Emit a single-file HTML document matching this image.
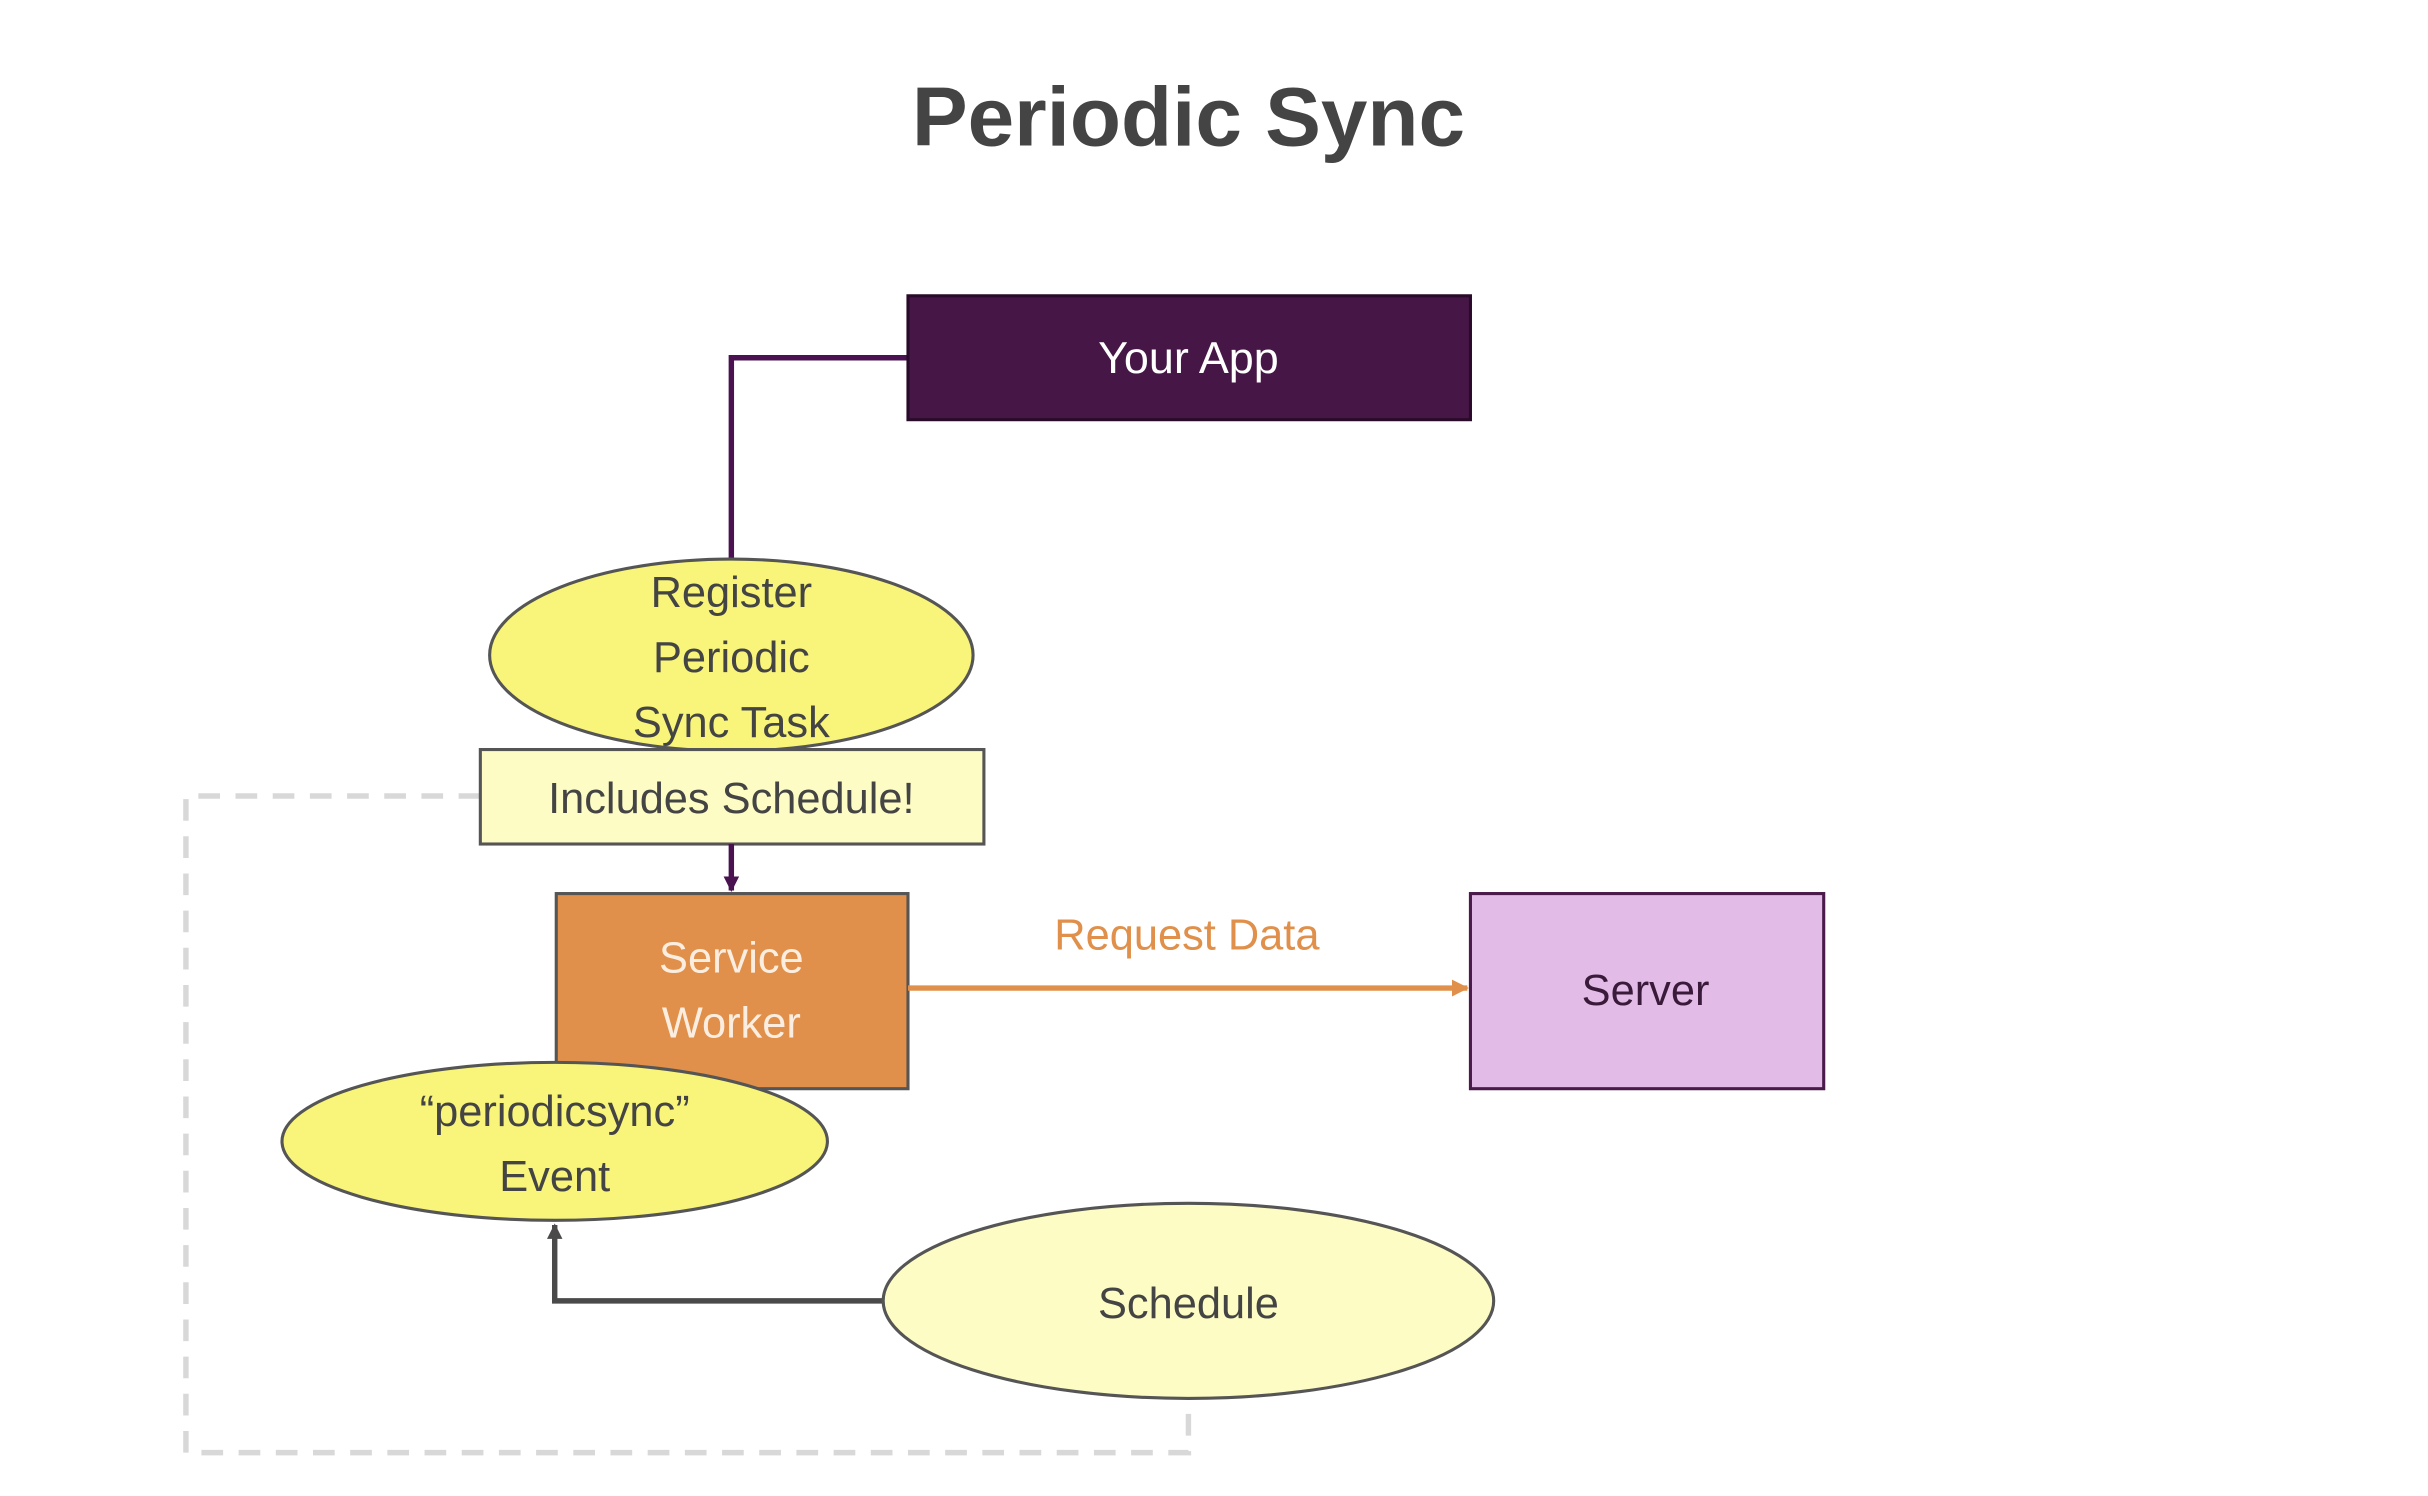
<!DOCTYPE html>
<html><head><meta charset="utf-8"><style>
html,body{margin:0;padding:0;background:#fff;width:2428px;height:1496px;overflow:hidden}
svg{display:block}
text{font-family:"Liberation Sans",sans-serif}
</style></head><body>
<svg width="2428" height="1496" viewBox="0 0 1567 966" preserveAspectRatio="none" xmlns="http://www.w3.org/2000/svg">
<defs>
<marker id="ap" markerWidth="10" markerHeight="10" refX="9" refY="5" orient="auto" markerUnits="userSpaceOnUse"><path d="M0,0 L10,5 L0,10 z" fill="#4a1250"/></marker>
<marker id="ao" markerWidth="11" markerHeight="11" refX="10" refY="5.5" orient="auto" markerUnits="userSpaceOnUse"><path d="M0,0 L11,5.5 L0,11 z" fill="#e0904a"/></marker>
<marker id="ag" markerWidth="10" markerHeight="10" refX="9" refY="5" orient="auto" markerUnits="userSpaceOnUse"><path d="M0,0 L10,5 L0,10 z" fill="#4a4a4a"/></marker>
</defs>
<text x="767" y="94" text-anchor="middle" font-size="54" font-weight="bold" fill="#444">Periodic Sync</text>
<path d="M310,514 H120 V938 H767 V903" fill="none" stroke="#d8d8d8" stroke-width="3.5" stroke-dasharray="14,10"/>
<path d="M586,231 H472 V362" fill="none" stroke="#4a1250" stroke-width="3.5"/>
<rect x="586" y="191" width="363" height="80" fill="#461746" stroke="#2a0a2a" stroke-width="2"/>
<text x="767" y="241" text-anchor="middle" font-size="29" fill="#fff">Your App</text>
<ellipse cx="472" cy="423" rx="156" ry="62" fill="#f8f57a" stroke="#555" stroke-width="2"/>
<text x="472" y="392" text-anchor="middle" font-size="28" fill="#444">Register</text>
<text x="472" y="434" text-anchor="middle" font-size="28" fill="#444">Periodic</text>
<text x="472" y="476" text-anchor="middle" font-size="28" fill="#444">Sync Task</text>
<rect x="310" y="484" width="325" height="61" fill="#fdfcc4" stroke="#555" stroke-width="2"/>
<text x="472" y="525" text-anchor="middle" font-size="28" fill="#444">Includes Schedule!</text>
<path d="M472,545 V575" stroke="#4a1250" stroke-width="3.5" marker-end="url(#ap)"/>
<rect x="359" y="577" width="227" height="126" fill="#e0904a" stroke="#555" stroke-width="2"/>
<text x="472" y="628" text-anchor="middle" font-size="28" fill="#fbeee0">Service</text>
<text x="472" y="670" text-anchor="middle" font-size="28" fill="#fbeee0">Worker</text>
<text x="766" y="613" text-anchor="middle" font-size="28" fill="#e0904a">Request Data</text>
<path d="M586,638 H947" stroke="#e0904a" stroke-width="3.5" marker-end="url(#ao)"/>
<rect x="949" y="577" width="228" height="126" fill="#e2bce6" stroke="#4a1a4a" stroke-width="2"/>
<text x="1062" y="649" text-anchor="middle" font-size="28" fill="#3a1a3a">Server</text>
<ellipse cx="358" cy="737" rx="176" ry="51" fill="#f8f57a" stroke="#555" stroke-width="2"/>
<text x="358" y="727" text-anchor="middle" font-size="28" fill="#444">“periodicsync”</text>
<text x="358" y="769" text-anchor="middle" font-size="28" fill="#444">Event</text>
<path d="M570,840 H358 V791" fill="none" stroke="#4a4a4a" stroke-width="3.5" marker-end="url(#ag)"/>
<ellipse cx="767" cy="840" rx="197" ry="63" fill="#fdfcc4" stroke="#555" stroke-width="2"/>
<text x="767" y="851" text-anchor="middle" font-size="28" fill="#444">Schedule</text>
</svg>
</body></html>
